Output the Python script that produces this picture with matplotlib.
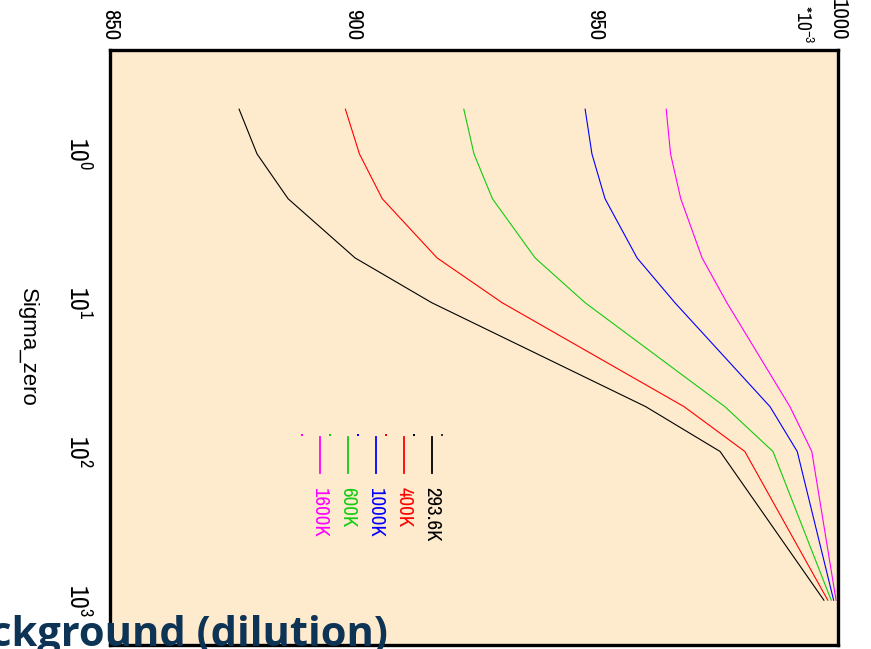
import matplotlib
matplotlib.use("Agg")
import matplotlib.pyplot as plt
from matplotlib import font_manager

# sigma_zero grid and self-shielding factors (in units of 1e-3) per temperature
sigma_zero = [0.5, 1, 2, 5, 10, 50, 100, 1000]
temperatures = ["293.6K", "400K", "1000K", "600K", "1600K"]
factors = {
    "293.6K": [876.6, 880.3, 886.7, 900.5, 916.3, 960.4, 975.7, 997.1],
    "400K": [898.5, 901.4, 906.1, 917.4, 930.8, 968.3, 980.8, 997.9],
    "600K": [922.9, 925.0, 928.8, 937.6, 947.9, 976.7, 986.6, 998.6],
    "1000K": [947.9, 949.3, 952.0, 958.6, 966.4, 986.0, 991.6, 999.1],
    "1600K": [964.6, 965.5, 967.6, 972.0, 977.1, 990.1, 994.6, 999.6],
}
colors = {
    "293.6K": "#000000",
    "400K": "#ff0000",
    "600K": "#11cc11",
    "1000K": "#0000ff",
    "1600K": "#ff00ff",
}
value_ticks = [850, 900, 950, 1000]
sigma_ticks = [1, 10, 100, 1000]
sigma_ticklabels = ["$10^{0}$", "$10^{1}$", "$10^{2}$", "$10^{3}$"]

# look for a narrow sans face for the numbers
narrow = None
for f in font_manager.fontManager.ttflist:
    if "Narrow" in f.name and f.weight in (400, "normal", "regular"):
        narrow = f.name
        break
if narrow is None:
    for f in font_manager.fontManager.ttflist:
        if f.stretch in ("condensed", "semi-condensed") and f.style == "normal" \
                and f.weight in (400, "normal", "regular"):
            narrow = f.name
            break
if narrow is None:
    narrow = "DejaVu Sans"
    scale = 0.78
else:
    scale = 1.0

plt.rcParams["mathtext.fontset"] = "custom"
plt.rcParams["mathtext.rm"] = narrow
plt.rcParams["mathtext.it"] = narrow
num_kw = dict(family=narrow, stretch="condensed")

W, H = 871, 649
fig = plt.figure(figsize=(W / 100, H / 100), dpi=100)
ax = fig.add_axes([110 / W, 1 - 645 / H, 728 / W, 595 / H])
ax.set_facecolor("#feeacd")

# plot is drawn turned on its side: factor runs across, sigma_zero runs down
for t in ["293.6K", "400K", "600K", "1000K", "1600K"]:
    ax.plot(factors[t], sigma_zero, color=colors[t], lw=0.8)

ax.set_yscale("log")
ax.set_ylim(2000, 0.2)
ax.set_xlim(850, 1000)
ax.xaxis.tick_top()
ax.set_xticks(value_ticks)
ax.set_xticklabels([str(v) for v in value_ticks], rotation=270,
                   fontsize=16.5 * scale, **num_kw)
ax.set_yticks(sigma_ticks)
ax.set_yticklabels(sigma_ticklabels, rotation=270, fontsize=18.5,
                   va="center")
ax.yaxis.set_minor_locator(matplotlib.ticker.NullLocator())
ax.tick_params(axis="both", length=0)
ax.tick_params(axis="x", pad=7)
ax.tick_params(axis="y", pad=15)
for sp in ax.spines.values():
    sp.set_linewidth(2.4)

ax.set_ylabel("Sigma_zero", rotation=270, fontsize=16,
              family="Liberation Sans", va="center")
ax.yaxis.set_label_coords(-0.113, 0.5)

fig.text(803 / W, 1 - 5 / H, "*10$^{-3}$", rotation=270, fontsize=14 * scale,
         ha="center", va="top", **num_kw)

# legend, stacked sideways
def ax_xy(px, py):
    return (px - 110) / 728, (645 - py) / 595

leg_x = {"293.6K": 432, "400K": 404, "1000K": 376, "600K": 348, "1600K": 320}
for t in temperatures:
    x0, y0 = ax_xy(leg_x[t], 437)
    x1, y1 = ax_xy(leg_x[t], 473)
    ax.plot([x0, x1], [y0, y1], color=colors[t], lw=1.3, transform=ax.transAxes)
    dx, dy = ax_xy(leg_x[t] - 18, 435)
    ax.plot([dx], [dy], "s", ms=1.8, color=colors[t], mew=0, transform=ax.transAxes)
    tx, ty = ax_xy(leg_x[t], 487)
    ax.text(tx, ty, t, color=colors[t], rotation=270, fontsize=15 * scale,
            ha="center", va="top", transform=ax.transAxes, **num_kw)
ex, ey = ax_xy(442, 435)
ax.plot([ex], [ey], "s", ms=1.8, color="#333333", mew=0, transform=ax.transAxes)

fig.text(388 / W, 3 / H, "Background (dilution)", fontsize=30,
         fontweight="bold", family="Open Sans", color="#0d3355",
         ha="right", va="baseline")

fig.savefig("out.png", dpi=100)
